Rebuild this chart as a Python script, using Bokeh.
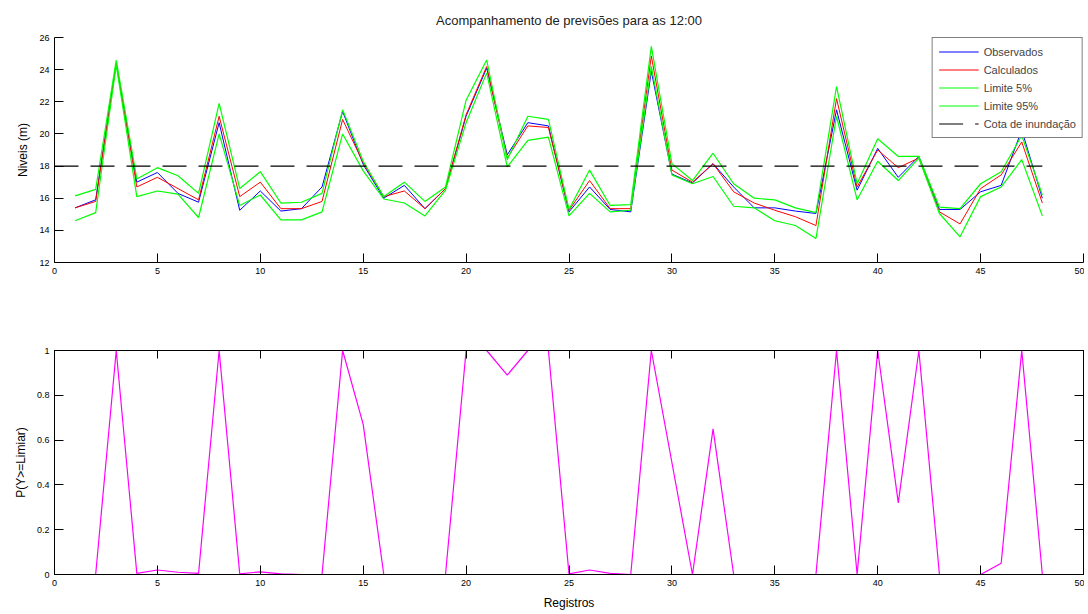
from bokeh.plotting import figure
from bokeh.layouts import column
from bokeh.models import FixedTicker, LinearAxis, Range1d, Legend, LegendItem
from bokeh.embed import file_html
from bokeh.resources import INLINE

registros = list(range(1, 49))
observados = [15.4, 15.9, 24.4, 17.0, 17.6, 16.3, 15.75, 20.7, 15.25, 16.45, 15.2, 15.35,
              16.7, 21.4, 18.1, 16.0, 16.8, 15.35, 16.6, 21.1, 24.1, 18.7, 20.7, 20.5,
              15.15, 16.7, 15.3, 15.15, 23.9, 17.5, 16.95, 18.15, 16.7, 15.4, 15.4, 15.2,
              15.05, 21.5, 16.5, 19.1, 17.3, 18.6, 15.3, 15.3, 16.4, 16.8, 20.25, 16.0]
calculados = [15.4, 15.8, 24.4, 16.7, 17.3, 16.6, 15.9, 21.1, 16.1, 17.0, 15.35, 15.35,
              15.8, 20.9, 18.2, 16.1, 16.45, 15.35, 16.6, 21.2, 24.2, 18.5, 20.5, 20.4,
              15.25, 17.1, 15.35, 15.35, 24.85, 17.75, 17.0, 18.15, 16.4, 15.7, 15.25, 14.85,
              14.3, 22.2, 16.7, 19.0, 17.9, 18.5, 15.15, 14.4, 16.6, 17.45, 19.5, 15.7]
limite5 = [14.6, 15.1, 24.3, 16.1, 16.45, 16.25, 14.8, 20.0, 15.55, 16.2, 14.65, 14.65,
           15.15, 20.0, 17.7, 15.95, 15.7, 14.9, 16.5, 20.7, 23.8, 17.95, 19.6, 19.8,
           14.9, 16.3, 15.15, 15.25, 24.2, 17.45, 16.9, 17.35, 15.5, 15.4, 14.6, 14.3,
           13.5, 21.1, 15.9, 18.3, 17.1, 18.5, 15.05, 13.6, 16.1, 16.7, 18.4, 14.9]
limite95 = [16.15, 16.55, 24.6, 17.2, 17.9, 17.4, 16.3, 21.9, 16.6, 17.65, 15.7, 15.75,
            16.3, 21.5, 18.3, 16.1, 17.0, 15.8, 16.7, 22.1, 24.6, 18.4, 21.1, 20.9,
            15.3, 17.75, 15.55, 15.6, 25.45, 18.15, 17.1, 18.8, 16.9, 16.0, 15.9, 15.4,
            15.1, 22.95, 16.9, 19.7, 18.6, 18.6, 15.45, 15.35, 16.9, 17.65, 19.9, 16.2]
cota_x = [0, 48]
cota_nivel = [18, 18]
prob = [0, 0, 1, 0.005, 0.02, 0.01, 0.005, 1, 0.003, 0.012, 0.003, 0,
        0, 1, 0.67, 0, 0, 0, 0, 1, 1, 0.89, 1, 1,
        0.003, 0.02, 0.005, 0, 1, 0.5, 0, 0.65, 0, 0, 0, 0,
        0, 1, 0, 1, 0.32, 1, 0, 0, 0, 0.05, 1, 0]

x_ticks = [0, 5, 10, 15, 20, 25, 30, 35, 40, 45, 50]
y_ticks_top = [12, 14, 16, 18, 20, 22, 24, 26]
y_ticks_bot = [0, 0.2, 0.4, 0.6, 0.8, 1]

FONT = "Liberation Sans"
TICK_FS = "9px"


def style_axis(ax, ticks, tick_len=9, labels=True):
    ax.ticker = FixedTicker(ticks=ticks)
    ax.major_tick_in = tick_len
    ax.major_tick_out = 0
    ax.minor_tick_in = 0
    ax.minor_tick_out = 0
    ax.axis_line_color = "black"
    ax.major_tick_line_color = "black"
    ax.major_label_text_font = FONT
    if labels:
        ax.major_label_text_font_size = TICK_FS
        ax.major_label_text_color = "black"
        ax.major_label_standoff = 5
    else:
        ax.major_label_text_font_size = "1px"
        ax.major_label_text_color = None
        ax.major_label_standoff = 0
    ax.axis_label_text_font = FONT
    ax.axis_label_text_font_style = "normal"
    ax.axis_label_text_font_size = "12px"
    ax.axis_label_text_color = "black"


# ---------- top figure ----------
p1 = figure(width=1084, height=300, output_backend="svg", toolbar_location=None,
            x_range=Range1d(0, 50), y_range=Range1d(12, 26),
            min_border_left=54, min_border_right=1, min_border_top=37, min_border_bottom=38,
            title="Acompanhamento de previsões para as 12:00")
p1.title.text_font = FONT
p1.title.text_font_size = "13px"
p1.title.text_font_style = "normal"
p1.title.align = "center"
p1.title.text_color = "#222222"
p1.title.standoff = 20
p1.outline_line_color = None
p1.xgrid.visible = False
p1.ygrid.visible = False

r_obs = p1.line(registros, observados, line_color="#0000ff", line_width=1)
r_cal = p1.line(registros, calculados, line_color="#ff0000", line_width=1)
r_l5 = p1.line(registros, limite5, line_color="#00ff00", line_width=1.2)
r_l95 = p1.line(registros, limite95, line_color="#00ff00", line_width=1.2)
r_cota = p1.line(cota_x, cota_nivel, line_color="black", line_width=1.2, line_dash="24 12")

style_axis(p1.xaxis[0], x_ticks)
style_axis(p1.yaxis[0], y_ticks_top)
p1.yaxis[0].axis_label = "Niveis (m)"
p1.yaxis[0].axis_label_standoff = 6

legend = Legend(items=[
    LegendItem(label="Observados", renderers=[r_obs]),
    LegendItem(label="Calculados", renderers=[r_cal]),
    LegendItem(label="Limite 5%", renderers=[r_l5]),
    LegendItem(label="Limite 95%", renderers=[r_l95]),
    LegendItem(label="Cota de inundação", renderers=[r_cota]),
], location="top_right")
legend.margin = 0
legend.padding = 6
legend.spacing = 3
legend.label_height = 15
legend.glyph_height = 15
legend.glyph_width = 40
legend.label_standoff = 5
legend.label_text_font = FONT
legend.label_text_font_size = "11px"
legend.border_line_color = "black"
legend.border_line_width = 1
legend.background_fill_alpha = 1
p1.add_layout(legend)

# ---------- bottom figure ----------
p2 = figure(width=1084, height=314, output_backend="svg", toolbar_location=None,
            x_range=Range1d(0, 50), y_range=Range1d(0, 1),
            min_border_left=54, min_border_right=1, min_border_top=50, min_border_bottom=40)
p2.outline_line_color = "black"
p2.xgrid.visible = False
p2.ygrid.visible = False
p2.line(registros, prob, line_color="#ff00ff", line_width=1.2)

style_axis(p2.xaxis[0], x_ticks)
p2.xaxis[0].axis_label = "Registros"
p2.xaxis[0].axis_label_standoff = 7
style_axis(p2.yaxis[0], y_ticks_bot)
p2.yaxis[0].axis_label = "P(Y>=Limiar)"
p2.yaxis[0].axis_label_standoff = 6
p2.yaxis[0].major_label_overrides = {0: "0", 1: "1"}

ax_top = LinearAxis()
style_axis(ax_top, x_ticks, tick_len=8, labels=False)
p2.add_layout(ax_top, "above")
ax_right = LinearAxis()
style_axis(ax_right, y_ticks_bot, tick_len=9, labels=False)
p2.add_layout(ax_right, "right")

layout = column(p1, p2, spacing=0)
open("out.html", "w").write(file_html(layout, INLINE))
